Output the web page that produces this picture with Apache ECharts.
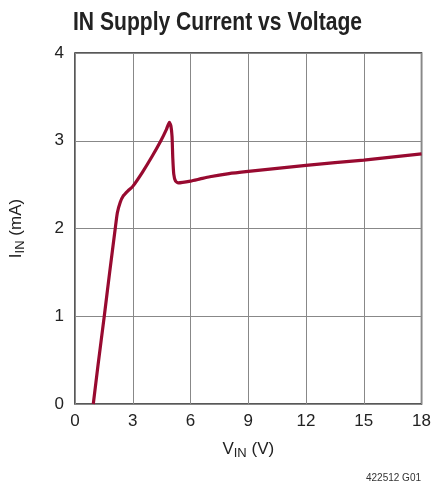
<!DOCTYPE html>
<html><head><meta charset="utf-8">
<script src="https://cdn.jsdelivr.net/npm/echarts@6/dist/echarts.min.js"></script>
<style>html,body{margin:0;padding:0;background:#fff}#c{width:434px;height:487px}</style>
</head><body><div id="c"></div>
<script>
const titleText = 'IN Supply Current vs Voltage';
const footnote = '422512 G01';
const xTicks = [0, 3, 6, 9, 12, 15, 18];
const yTicks = [0, 1, 2, 3, 4];
const vin = [0.95,1.2,1.52,1.8,2.09,2.2,2.35,2.5,2.75,3.0,3.5,4.0,4.46,4.75,4.9,4.98,5.04,5.08,5.13,5.22,5.37,6,6.5,7,8,9,12,15,18];
const iin = [0,0.45,1.0,1.5,2.0,2.18,2.3,2.37,2.43,2.48,2.64,2.82,3.0,3.13,3.21,3.17,3.05,2.8,2.62,2.54,2.52,2.54,2.565,2.59,2.625,2.65,2.72,2.78,2.85];

const chart = echarts.init(document.getElementById('c'), null, {renderer: 'canvas'});
const font = 'Liberation Sans, Arial, sans-serif';
const titleFont = 'bold 25px "Liberation Sans", Arial, sans-serif';
const ctx = document.createElement('canvas').getContext('2d');
ctx.font = titleFont;
const tw = ctx.measureText(titleText).width;
const sx = 289 / tw;
chart.setOption({
  animation: false,
  grid: {left: 72, top: 53, width: 351, height: 351, show: true, borderColor: '#222', borderWidth: 1.5, backgroundColor: 'transparent'},
  xAxis: {
    type: 'value', min: xTicks[0], max: xTicks[xTicks.length-1], interval: 3,
    axisLine: {show: false}, axisTick: {show: false},
    splitLine: {show: true, lineStyle: {color: '#888', width: 1}},
    axisLabel: {fontFamily: font, fontSize: 17, color: '#222', margin: 9},
    name: '{a|V}{s|IN}{a| (V)}', nameLocation: 'middle', nameGap: 35,
    nameTextStyle: {rich: {a: {fontFamily: font, fontSize: 17, color: '#222'}, s: {fontFamily: font, fontSize: 13, color: '#222', padding: [8,0,0,0]}}}
  },
  yAxis: {
    type: 'value', min: yTicks[0], max: yTicks[yTicks.length-1], interval: 1,
    axisLine: {show: false}, axisTick: {show: false},
    splitLine: {show: true, lineStyle: {color: '#888', width: 1}},
    axisLabel: {fontFamily: font, fontSize: 17, color: '#222', margin: 11},
    name: '{a|I}{s|IN}{a| (mA)}', nameLocation: 'middle', nameGap: 48,
    nameTextStyle: {rich: {a: {fontFamily: font, fontSize: 17, color: '#222'}, s: {fontFamily: font, fontSize: 13, color: '#222', padding: [8,0,0,0]}}}
  },
  graphic: [
    {type: 'text', x: 73, y: 11, scaleX: sx, style: {text: titleText, font: titleFont, fill: '#222'}},
    {type: 'text', right: 13, top: 473, style: {text: footnote, fontFamily: font, fontSize: 10, fill: '#333'}}
  ],
  series: [{
    type: 'line', data: vin.map((v, i) => [v, iin[i]]), showSymbol: false, smooth: 0.2,
    lineStyle: {color: '#980a30', width: 3.2}, clip: true
  }]
});
</script></body></html>
